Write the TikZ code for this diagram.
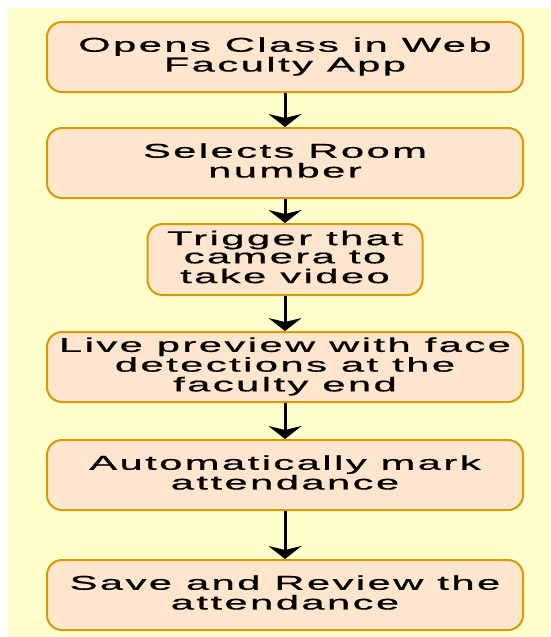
\documentclass[tikz,border=0pt]{standalone}
\usepackage{fontspec}
\usepackage{graphicx}
\usepackage{xcolor}
\usepackage{tikz}
\usetikzlibrary{arrows.meta}
\newfontfamily\stepfont[LetterSpace=6,FakeBold=0.6]{Liberation Sans}
\newcommand{\steptext}[1]{\scalebox{2.08}[1]{\begin{tabular}{@{}c@{}}#1\end{tabular}}}
\definecolor{bgyellow}{HTML}{FFFFCC}
\definecolor{boxfill}{HTML}{FFE6CC}
\definecolor{boxline}{HTML}{D79B00}

\begin{document}
\begin{tikzpicture}[x=1pt,y=-1pt,
    stepbox/.style={draw=boxline,fill=boxfill,line width=2pt,rounded corners=15pt,
        minimum width=476pt,minimum height=70pt,inner sep=2pt,
        font=\stepfont\fontsize{20}{17.5}\selectfont},
    flow/.style={line width=3pt,-{Stealth[width=33pt,length=13pt,inset=4pt]}}]
    \useasboundingbox (0,0) rectangle (550,637);
    \fill[bgyellow] (8,8) rectangle (550,637);
    \node[stepbox] (open)    at (285,57)  {\steptext{Opens Class in Web\\Faculty App}};
    \node[stepbox] (room)    at (285,163) {\steptext{Selects Room\\number}};
    \node[stepbox,minimum width=275pt,minimum height=71pt] (trigger) at (285,259.5) {\steptext{Trigger that\\camera to\\take video}};
    \node[stepbox] (preview) at (285,367) {\steptext{Live preview with face\\detections at the\\faculty end}};
    \node[stepbox] (mark)    at (285,475) {\steptext{Automatically mark\\attendance}};
    \node[stepbox] (save)    at (285,595) {\steptext{Save and Review the\\attendance}};
    \draw[flow] (open) -- (room);
    \draw[flow] (room) -- (trigger);
    \draw[flow] (trigger) -- (preview);
    \draw[flow] (preview) -- (mark);
    \draw[flow] (mark) -- (save);
\end{tikzpicture}
\end{document}
